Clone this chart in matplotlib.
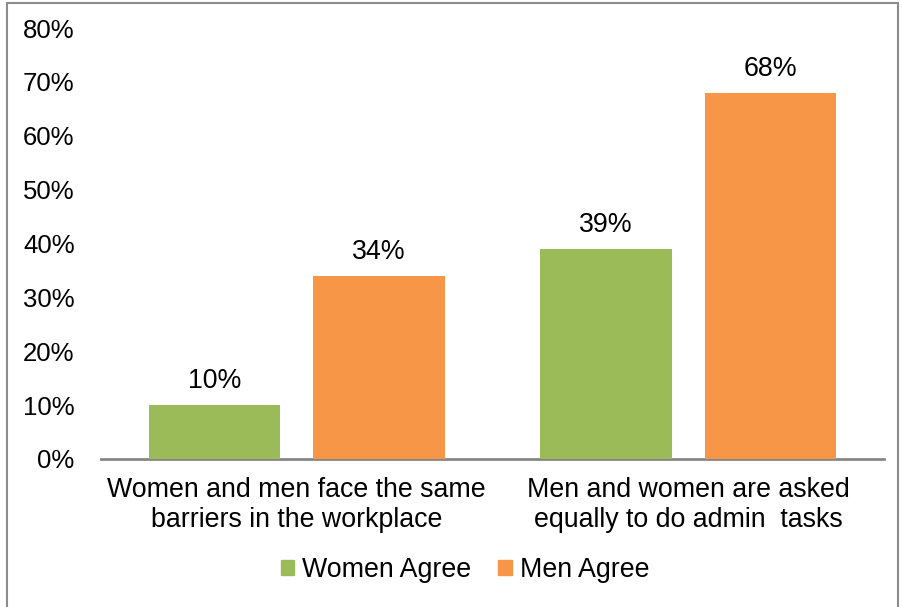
import matplotlib
matplotlib.use("Agg")
import matplotlib.pyplot as plt
from matplotlib.patches import Rectangle
import numpy as np

categories = ["Women and men face the same\nbarriers in the workplace",
              "Men and women are asked\nequally to do admin  tasks"]
women_agree = [0.10, 0.39]
men_agree = [0.34, 0.68]
series_names = ["Women Agree", "Men Agree"]
yticks = [0, 0.1, 0.2, 0.3, 0.4, 0.5, 0.6, 0.7, 0.8]
ytick_labels = ["0%", "10%", "20%", "30%", "40%", "50%", "60%", "70%", "80%"]

plt.rcParams['font.family'] = ['Liberation Sans', 'DejaVu Sans']

W, H = 902, 607
fig = plt.figure(figsize=(W/100, H/100), dpi=100)
ax = fig.add_axes([101/W, 1-459/H, (884-101)/W, (459-28)/H])

green = "#9BBB59"
orange = "#F79646"
FS = 19.3
x = np.arange(len(categories))
off = 0.21
width = 0.335
b1 = ax.bar(x - off, women_agree, width, color=green, label=series_names[0], zorder=3)
b2 = ax.bar(x + off, men_agree, width, color=orange, label=series_names[1], zorder=3)

for bars, vals in ((b1, women_agree), (b2, men_agree)):
    for r, v in zip(bars, vals):
        ax.annotate(f"{v*100:.0f}%", (r.get_x() + r.get_width()/2, v),
                    xytext=(0, 8), textcoords="offset points",
                    ha="center", va="bottom", fontsize=FS, color="#000000")

ax.set_xlim(-0.5, 1.5)
ax.set_ylim(0, 0.8)
ax.set_yticks(yticks)
ax.set_yticklabels(ytick_labels, fontsize=18.5)
ax.set_xticks(x)
ax.set_xticklabels(categories, fontsize=FS, linespacing=1.22)
ax.tick_params(axis='y', length=0, pad=19)
ax.tick_params(axis='x', length=0, pad=13)
for s in ("top", "right", "left"):
    ax.spines[s].set_visible(False)
ax.spines["bottom"].set_color("#868686")
ax.spines["bottom"].set_linewidth(2)

handles = [Rectangle((0, 0), 1, 1, color=green), Rectangle((0, 0), 1, 1, color=orange)]
fig.legend(handles, series_names, loc="center", bbox_to_anchor=(465/W, 1-570/H),
           ncol=2, frameon=False, fontsize=FS, handlelength=0.5, handleheight=0.5,
           handletextpad=0.3, columnspacing=1.0)

fig.patches.append(Rectangle((7/W, -0.02), (898-7)/W, 1-3/H+0.02, transform=fig.transFigure,
                             fill=False, edgecolor="#8c8c8c", linewidth=1.5))

fig.savefig("out.png", dpi=100)
